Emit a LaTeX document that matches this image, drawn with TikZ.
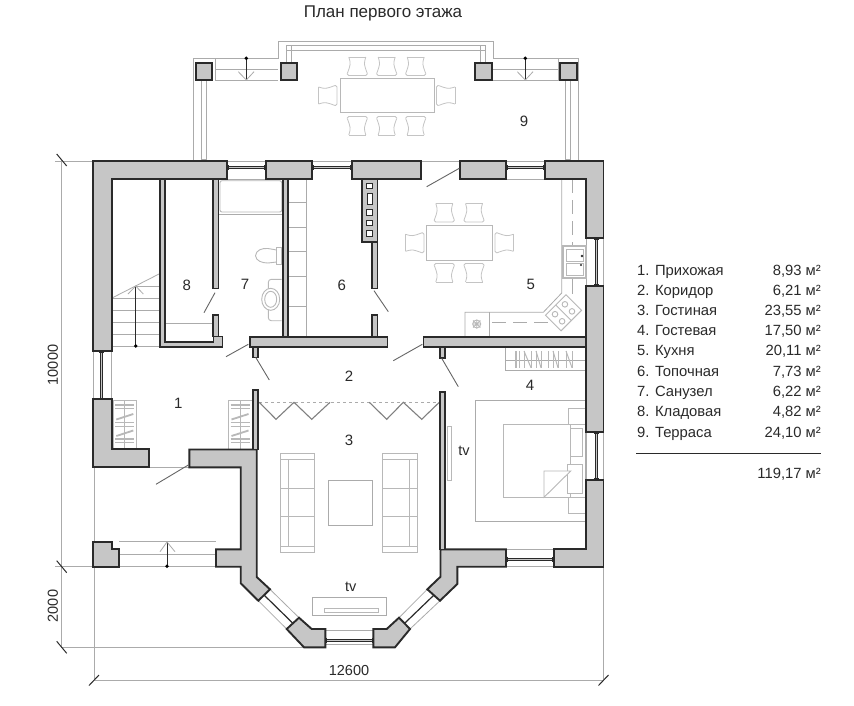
\documentclass[tikz,border=0pt]{standalone}
\usepackage{fontspec}
\setmainfont{Liberation Sans}
\definecolor{wallgrey}{HTML}{C6C6C6}
\definecolor{thin}{HTML}{ABABAB}
\definecolor{furncol}{HTML}{B8B8B8}
\definecolor{chaircol}{HTML}{C4C4C4}
\definecolor{ink}{HTML}{2A2A2A}
\tikzset{
  wallshape/.style={draw=ink,fill=wallgrey,line width=1.9pt,line join=miter},
  thinwall/.style={draw=ink,fill=wallgrey,line width=1.6pt},
  thinline/.style={draw=thin,line width=.8pt},
  furn/.style={draw=furncol,line width=.9pt},
  chairline/.style={draw=chaircol,line width=.8pt},
  leaf/.style={draw=black!60,line width=.9pt},
  winbar/.style={draw=ink,line width=1pt,double=wallgrey,double distance=1pt},
  dimline/.style={draw=thin,line width=1pt},
  tickm/.style={draw=ink,line width=1pt},
  roomno/.style={font=\fontsize{15}{17}\selectfont,text=ink,inner sep=0pt},
  tabl/.style={font=\fontsize{14.8}{17}\selectfont,text=ink,inner sep=0pt,anchor=base west},
  tabr/.style={font=\fontsize{14.8}{17}\selectfont,text=ink,inner sep=0pt,anchor=base east},
  dimtext/.style={font=\fontsize{14.5}{16}\selectfont,text=ink,inner sep=0pt},
  titletext/.style={font=\fontsize{17}{19}\selectfont,text=ink,inner sep=0pt},
}
\newcommand\planchair[3]{\begin{scope}[shift={(#1,#2)},rotate=#3]
  \draw[chairline] (-8.5,-9) -- (8.5,-9);
  \draw[chairline] (-8.5,-9) .. controls (-6.5,-2) .. (-10,7.5);
  \draw[chairline] (8.5,-9) .. controls (6.5,-2) .. (10,7.5);
  \draw[chairline,rounded corners=1.5pt] (-10,7.5) -- (-10,9.5) -- (10,9.5) -- (10,7.5);
\end{scope}}
\newcommand\hwin[3]{\draw[winbar] (#1,#3) -- (#2,#3);
  \draw[ink,line width=1.6pt] (#1+1,#3-2.5) -- (#1+1,#3+2.5) (#2-1,#3-2.5) -- (#2-1,#3+2.5);}
\newcommand\vwin[3]{\draw[winbar] (#3,#1) -- (#3,#2);
  \draw[ink,line width=1.6pt] (#3-2.5,#1+1) -- (#3+2.5,#1+1) (#3-2.5,#2-1) -- (#3+2.5,#2-1);}
\newcommand\closet[2]{\begin{scope}[shift={(#1,#2)}]
  \draw[furn] (0,0) rectangle (23.5,49);
  \draw[furn] (11.5,0) -- (11.5,49);
  \foreach \yy in {4.5,8,22,26,38.5,42}{\draw[furncol,line width=1.8pt] (2,\yy) -- (21,\yy);}
  \draw[furncol,line width=1.8pt] (3,19) -- (20,13.5) (3,35.5) -- (20,30);
\end{scope}}
\newcommand\tick[2]{\draw[tickm] (#1-5,#2-6) -- (#1+5,#2+6);}
\begin{document}
\begin{tikzpicture}[x=1pt,y=-1pt]
\useasboundingbox (0,0) rectangle (854,706);
\fill[white] (0,0) rectangle (854,706);

% dimensions
\draw[dimline] (61.7,160) -- (61.7,647.3) -- (304,647.3);
\draw[dimline] (94,467) -- (94,680) -- (603.5,680);
\draw[dimline] (603.5,566) -- (603.5,680);
\draw[thinline] (55,161) -- (603,161);
\draw[thinline] (55,566.7) -- (216,566.7);
\tick{61.7}{160}\tick{61.7}{566.7}\tick{61.7}{647.3}
\draw[tickm] (89,685.5) -- (99,675) (598.5,685.5) -- (608.5,675);
\node[dimtext,rotate=90] (dimh) at (53,365) {10000};
\node[dimtext,rotate=90] (dimb) at (53,606) {2000};
\node[dimtext] (dimw) at (349,671) {12600};

% terrace
\draw[thinline] (193.3,161) -- (193.3,58.3) -- (278.3,58.3) -- (278.3,41.7) -- (493.3,41.7) -- (493.3,58.3) -- (578.3,58.3) -- (578.3,161);
\draw[thinline] (215,58.3) -- (215,80) -- (278.3,80);
\draw[thinline] (215,69.3) -- (278.3,69.3);
\draw[thinline] (558.3,58.3) -- (558.3,80) -- (493.3,80);
\draw[thinline] (493.3,69.3) -- (558.3,69.3);
\draw[thinline] (286,45) rectangle (485,50);
\draw[thinline] (286.7,45) rectangle (291.7,63);
\draw[thinline] (480.7,45) rectangle (485.7,63);
\draw[thinline,line width=1.1pt] (201.7,80) rectangle (206.7,160);
\draw[thinline,line width=1.1pt] (565.7,80) rectangle (570.7,160);
\draw[ink,line width=.8pt] (246.3,58.3) -- (246.3,80);
\fill[black] (246.3,58.3) circle (1.9);
\draw[thinline] (238.3,71.7) -- (246.3,80) -- (254,71.7);
\draw[ink,line width=.8pt] (525.3,58.3) -- (525.3,80);
\fill[black] (525.3,58.3) circle (1.9);
\draw[thinline] (517.3,71.7) -- (525.3,80) -- (533,71.7);
\foreach \xa/\xb in {196/212.3,280.7/297.3,475/491.7,560/576.7}{
  \draw[wallshape] (\xa,63.3) rectangle (\xb,80);}
\draw[furn] (340,78.3) rectangle (434,112.7);
\foreach \xx in {357.3,386.7,415.7}{\planchair{\xx}{66}{0}\planchair{\xx}{126}{180}}
\planchair{327.5}{95.5}{90}
\planchair{446}{95.5}{-90}
\node[roomno] (r9) at (524,121.7) {9};

% stairs
\foreach \yy in {298,310,322,334,346.7}{\draw[thinline] (112,\yy) -- (159,\yy);}
\draw[thinline] (135,286) -- (159,286);
\draw[thinline] (112,298) -- (159,274);
\draw[ink,line width=.8pt] (135.7,346) -- (135.7,286);
\fill[black] (135.7,346) circle (1.9);
\draw[thinline] (128,294) -- (135.7,286) -- (143.3,294);

% left window surrounding lines
\draw[thinline] (93.7,351) -- (93.7,399) (111,351) -- (111,399);
\draw[thinline] (586,238) -- (586,286) (603.3,238) -- (603.3,286);
\draw[thinline] (586,432) -- (586,480) (603.3,432) -- (603.3,480);
\draw[thinline] (554,549.3) -- (506,549.3) (554,566.7) -- (506,566.7);
\draw[thinline] (220,179) -- (286,179) (504,179) -- (586,179);

% bathroom
\draw[furn,rounded corners=2pt] (220,180.7) rectangle (281.7,212);
\draw[thinline] (218,214.7) -- (282,214.7);
\draw[furn] (276.7,247.3) rectangle (281.7,264);
\draw[furn] (276.7,250) -- (268,248.5) .. controls (262,248) and (256,250) .. (255.5,255.7) .. controls (256,261) and (262,263) .. (268,263) -- (276.7,262);
\draw[furn,rounded corners=3pt] (281.7,279.3) -- (268.3,279.3) -- (268.3,320.7) -- (281.7,320.7);
\draw[fill=white,furn] (270.7,299.3) ellipse (9 and 11);
\draw[furn] (270.7,299.3) ellipse (6 and 8);

% shelves
\draw[thinline] (306.7,179) -- (306.7,336.7);
\foreach \yy in {202.7,227.3,251.7,276,306}{\draw[thinline] (288,\yy) -- (306.7,\yy);}
\draw[thinline] (165,323.3) -- (213,323.3);

% kitchen
\draw[thinline] (561.7,179) -- (561.7,293) -- (543.3,312.3) -- (465,312.3) -- (465,336.7);
\draw[thinline] (489.3,312.3) -- (489.3,336.7);
\draw[thinline,dash pattern=on 14pt off 7pt] (572.3,179) -- (572.3,245);
\draw[thinline] (572.3,279) -- (572.3,294);
\draw[thinline,dash pattern=on 14pt off 7pt] (492,322.3) -- (552,322.3);
\draw[furncol,line width=2pt] (563,246.3) rectangle (585.5,277.5);
\draw[furn] (566,249) rectangle (583,261) (566,263) rectangle (583,275);
\fill[ink] (582,256) circle (1.3) (581,265) circle (1.2);
\begin{scope}[shift={(563.5,312.8)},rotate=45]
  \draw[furn,fill=white] (-14.5,-11) rectangle (14.5,11);
  \foreach \xx/\yy in {-7/-5,7/-5,-7/5,7/5}{\draw[furn] (\xx,\yy) circle (2.8);}
  \draw[furn] (0,-11) -- (0,11);
\end{scope}
\draw[furn] (476.7,324) circle (4);
\draw[furn] (473,320.5) -- (480.4,327.5) (473,327.5) -- (480.4,320.5) (476.7,319.5) -- (476.7,328.5) (472.5,324) -- (481,324);
\draw[furn] (426.7,225) rectangle (492.7,260);
\foreach \xx in {444.3,474}{\planchair{\xx}{212.5}{0}\planchair{\xx}{273}{180}}
\planchair{414.5}{242.8}{90}
\planchair{504.5}{242.8}{-90}

% bedroom
\draw[thinline] (505.7,346.7) rectangle (586,370.7);
\draw[thinline] (505.7,360) -- (586,360);
\draw[furncol,line width=2.2pt] (516,351) -- (516,367.7);
\foreach \xx in {519,524,531,536,541,548,553,558,566,572}{\draw[furncol,line width=1pt] (\xx,351) -- (\xx,367.7);}
\draw[furncol,line width=1pt] (524,351) -- (531,367.7) (536,351) -- (541,367.7) (553,351) -- (558,367.7) (566,351) -- (572,367.7);
\draw[thinline] (475.7,400) rectangle (585,521.7);
\draw[furn] (503.3,424.3) rectangle (570.7,497.3);
\draw[furn,fill=white] (570.7,428.3) rectangle (582.3,456.7);
\draw[furn,fill=white] (567.3,464.3) rectangle (582.3,493.3);
\draw[furn,fill=white] (568.3,408.3) rectangle (585,424.3);
\draw[furn,fill=white] (568.3,497.3) rectangle (585,513.3);
\draw[furn,fill=white] (544,497.3) -- (544,471) -- (570.7,471) -- cycle;
\draw[furn] (447.7,426.7) rectangle (451,480);
\node[roomno] (r4) at (530,385.7) {4};
\node[dimtext] (tv1) at (464,451) {tv};

% living room
\foreach \xo/\xv in {280/288.3,382.7/409}{
  \draw[furn] (\xo,453.3) rectangle (\xo+34.7,552.7);
  \draw[furn] (\xv,459.3) -- (\xv,546);
  \foreach \yy in {459.3,488.3,516.7,546}{\draw[furn] (\xo,\yy) -- (\xo+34.7,\yy);}
}
\draw[thinline] (328,480.7) rectangle (372.7,525);
\draw[thinline,dashed,line width=1pt] (259,402.3) -- (440,402.3);
\draw[black!50,line width=1.1pt] (259.3,402.3) -- (276,419.3) -- (294,402.3) -- (311.7,419.3) -- (330,402.3);
\draw[black!50,line width=1.1pt] (369.3,402.3) -- (386.7,419.3) -- (403.3,402.3) -- (421.7,419.3) -- (439.3,402.3);
\draw[thinline] (312.7,597.3) rectangle (386,615.7);
\draw[furn,line width=1pt] (324.3,608.3) rectangle (378.3,612.3);
\node[dimtext] (tv2) at (350.7,587) {tv};

% entry
\closet{113.3}{400.5}
\closet{228.5}{400.5}
\draw[thinline] (149.3,467.3) -- (189.3,467.3);
\draw[thinline] (119,541.7) -- (216,541.7) (119,554) -- (216,554);
\draw[ink,line width=.8pt] (167,566.3) -- (167,542);
\fill[black] (167,566.3) circle (1.9);
\draw[thinline] (160,551.7) -- (167,542) -- (175,551.7);

% windows
\hwin{226.7}{266}{167.5}
\hwin{311.7}{351.7}{167.5}
\hwin{506}{545}{167.5}
\hwin{506}{554}{559}
\vwin{351}{399.3}{101}
\vwin{238}{286}{596.7}
\vwin{431.7}{480}{596.7}
% bay windows
\draw[thinline] (325.3,630) -- (373.3,630) (325.3,644) -- (373.3,644);
\hwin{325.3}{373.3}{640}
\draw[thinline] (270,589.3) -- (299,617.7) (258.3,600.7) -- (286.7,629);
\draw[ink,line width=1.2pt] (263.5,594.5) -- (293,623.4);
\draw[thinline] (427.3,589.3) -- (399,617.7) (440,600.7) -- (410,629);
\draw[ink,line width=1.2pt] (434,595) -- (404.5,623.4);

% capital walls
\draw[wallshape] (93.3,161) -- (226.7,161) -- (226.7,179) -- (111.7,179) -- (111.7,351) -- (93.3,351) -- cycle;
\draw[wallshape] (266,161) rectangle (311.7,179);
\draw[wallshape] (351.7,161) rectangle (420.7,179);
\draw[wallshape] (460,161) rectangle (506,179);
\draw[wallshape] (545,161) -- (603.5,161) -- (603.5,237.7) -- (586,237.7) -- (586,179) -- (545,179) -- cycle;
\draw[wallshape] (586,286) rectangle (603.5,431.7);
\draw[wallshape] (586,480) -- (603.5,480) -- (603.5,566.7) -- (554,566.7) -- (554,549.3) -- (586,549.3) -- cycle;
\draw[wallshape] (440.5,549.3) -- (506,549.3) -- (506,566.7) -- (457.3,566.7) -- (457.3,584) -- (440,600.7) -- (427.3,589.3) -- (440.5,576.7) -- cycle;
\draw[wallshape] (399,617.7) -- (410,629) -- (395,647.3) -- (373.3,647.3) -- (373.3,629) -- (386.7,629) -- cycle;
\draw[wallshape] (299,617.7) -- (286.7,629) -- (304,647.3) -- (325.3,647.3) -- (325.3,629) -- (311.7,629) -- cycle;
\draw[wallshape] (189.3,449.5) -- (256.7,449.5) -- (256.7,577) -- (270,589.3) -- (258.3,600.7) -- (240.7,583.3) -- (240.7,566.7) -- (216,566.7) -- (216,549.3) -- (240.7,549.3) -- (240.7,467.3) -- (189.3,467.3) -- cycle;
\draw[wallshape] (93.3,399.3) -- (111.7,399.3) -- (111.7,449.3) -- (149.3,449.3) -- (149.3,467.3) -- (93.3,467.3) -- cycle;
\draw[wallshape] (93.3,541.7) -- (111.7,541.7) -- (111.7,549) -- (119,549) -- (119,566.7) -- (93.3,566.7) -- cycle;

% partitions
\draw[thinwall] (250,336.7) rectangle (387.3,346.7);
\draw[thinwall] (423.3,336.7) rectangle (586,346.7);
\draw[thinwall] (159.8,179) -- (165,179) -- (165,341.7) -- (213.5,341.7) -- (213.5,336.5) -- (222.5,336.5) -- (222.5,346.7) -- (159.8,346.7) -- cycle;
\draw[thinwall] (213,179) rectangle (218.3,288.3);
\draw[thinwall] (213,315) rectangle (218.3,336.5);
\draw[thinwall] (282.8,179) rectangle (288,336.7);
\draw[thinwall] (372,241.7) rectangle (377.3,288.3);
\draw[thinwall] (372,315) rectangle (377.3,336.7);
\draw[thinwall] (361.7,179) rectangle (377.3,241.7);
\foreach \yy in {186,212.3,223,233.3}{\draw[draw=ink,fill=white,line width=1pt] (366.8,\yy-2.7) rectangle (372.2,\yy+2.7);}
\draw[draw=ink,fill=white,line width=1pt] (367,193.5) rectangle (372,204.5);
\draw[thinwall] (252.8,346.7) rectangle (258,357.3);
\draw[thinwall] (439.8,346.7) rectangle (445,358);
\draw[thinwall] (252.8,390) rectangle (258,449.5);
\draw[thinwall] (440.2,391.7) rectangle (445.2,549.3);

% door leaves
\draw[leaf] (215,292.7) -- (204,312.7);
\draw[leaf] (248.3,344.3) -- (226,356.7);
\draw[leaf] (255.7,357.3) -- (269.3,380);
\draw[leaf] (374,290.7) -- (388.3,311.7);
\draw[leaf] (422.3,344.3) -- (393.3,360.7);
\draw[leaf] (441.7,358.3) -- (458.3,386.7);
\draw[leaf] (459.3,168.3) -- (426.7,186.7);
\draw[leaf] (188.3,465) -- (156,484.3);

% room numbers
\node[roomno] (r8) at (186.7,285) {8};
\node[roomno] (r7) at (245,284.3) {7};
\node[roomno] (r6) at (341.7,285) {6};
\node[roomno] (r5) at (530.7,284.3) {5};
\node[roomno] (r1) at (178.3,403.3) {1};
\node[roomno] (r2) at (349,376) {2};
\node[roomno] (r3) at (349,440.7) {3};

% title
\node[titletext] (title) at (383,13.5) {План первого этажа};

% table
\foreach \yy/\aa/\bb [count=\ii] in {275/1. Прихожая/{8,93 м²},295/2. Коридор/{6,21 м²},315.3/3. Гостиная/{23,55 м²},335.5/4. Гостевая/{17,50 м²},355.7/5. Кухня/{20,11 м²},376/6. Топочная/{7,73 м²},396.3/7. Санузел/{6,22 м²},416.5/8. Кладовая/{4,82 м²},437/9. Терраса/{24,10 м²}}{
  \node[tabl] (tl\ii) at (637,\yy) {\aa};
  \node[tabr] (tr\ii) at (821,\yy) {\bb};
}
\draw[ink,line width=1.2pt] (636,453.3) -- (821,453.3);
\node[tabr] (total) at (821,478) {119,17 м²};
\end{tikzpicture}
\end{document}
